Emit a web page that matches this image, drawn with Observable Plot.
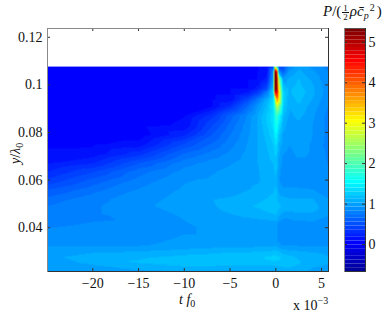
<!DOCTYPE html>
<html><head><meta charset="utf-8">
<script src="https://cdn.jsdelivr.net/npm/d3@7"></script>
<script src="https://cdn.jsdelivr.net/npm/@observablehq/plot@0.6"></script>
<style>
html,body{margin:0;padding:0;background:#fff}
#wrap{position:relative;width:390px;height:312px;overflow:hidden;font-family:"Liberation Serif",serif;color:#111}
#wrap svg{position:absolute;left:0;top:0;background:transparent}
.t{position:absolute;white-space:nowrap;font-size:14px;line-height:1}
i{font-style:italic}
</style></head><body><div id="wrap"></div>
<script>
const times=[-24.95,-20,-15,-10,-7,-5,-3,-2,-1,-0.25,-0.1,0.12,0.3,0.8,1.5,2.5,4,5.76];
const heights=[0.1077,0.1055,0.1025,0.0985,0.0965,0.094,0.091,0.087,0.083,0.079,0.075,0.071,0.067,0.0635,0.06,0.056,0.052,0.049,0.045,0.0415,0.039,0.035,0.0325,0.0295,0.0275,0.0255,0.0235,0.0216];
const r00=[.08,.08,.08,.08,.08,.08,.08,.08,.10,.40,2.6,1.4,.5,.5,.85,1.0,.9,.8];
const r01=[.08,.08,.08,.08,.08,.08,.08,.08,.12,.9,5.4,4.6,1.0,.6,.95,1.05,.95,.83];
const r02=[.08,.08,.08,.08,.08,.08,.08,.08,.2,1.0,5.4,5.3,2.6,.95,1.05,1.12,1.0,.85];
const r03=[.08,.08,.08,.08,.08,.08,.08,.2,.45,1.2,5.4,5.3,3.2,1.2,1.1,1.15,1.05,.87];
const r04=[.08,.08,.08,.08,.08,.08,.2,.4,.78,1.3,4.2,4.6,3.5,1.3,1.1,1.18,1.05,.87];
const r05=[.08,.08,.08,.08,.08,.1,.45,.72,1.05,1.35,2.2,3.8,3.3,1.3,1.05,1.15,1.02,.85];
const r06=[.07,.07,.07,.07,.08,.3,.68,.92,1.15,1.4,1.9,2.6,2.4,1.25,1.03,1.1,.98,.83];
const r07=[.06,.06,.06,.08,.32,.6,.86,1.02,1.22,1.38,1.65,1.9,1.6,1.15,1.0,1.05,.95,.8];
const r08=[.05,.05,.05,.1,.45,.68,.9,1.03,1.2,1.35,1.55,1.65,1.4,1.08,.95,1.0,.93,.8];
const r09=[.03,.02,.02,.25,.55,.74,.92,1.02,1.16,1.28,1.45,1.48,1.22,1.0,.93,.98,.93,.8];
const r10=[.07,.07,.12,.48,.66,.8,.94,1.02,1.12,1.22,1.3,1.32,1.1,.98,.93,.96,.92,.8];
const r11=[.1,.12,.32,.66,.78,.86,.96,1.02,1.1,1.16,1.22,1.22,1.05,.93,.9,.95,.92,.82];
const r12=[.17,.27,.55,.8,.88,.92,.98,1.02,1.08,1.12,1.18,1.16,1.0,.9,.88,.9,.9,.83];
const r13=[.27,.45,.7,.87,.92,.95,.98,1.01,1.06,1.1,1.14,1.12,.96,.88,.88,.87,.87,.85];
const r14=[.38,.58,.77,.92,.94,.97,1.0,1.01,1.05,1.08,1.1,1.08,.94,.88,.88,.87,.87,.85];
const r15=[.55,.7,.84,.94,.98,.99,1.02,1.04,1.07,1.1,1.13,1.11,1.0,.94,.94,.94,.93,.87];
const r16=[.68,.8,.89,.96,1.02,1.03,1.06,1.09,1.12,1.15,1.18,1.16,1.08,1.05,1.03,1.03,1.03,.93];
const r17=[.74,.82,.9,.98,1.01,1.06,1.1,1.13,1.17,1.19,1.2,1.18,1.14,1.1,1.07,1.07,1.07,.95];
const r18=[.78,.82,.86,.94,.98,1.01,1.04,1.06,1.08,1.1,1.12,1.1,1.04,.97,.97,1.0,1.0,.93];
const r19=[.82,.84,.85,.92,.96,.96,.96,.96,.96,.96,.98,.96,.9,.86,.86,.88,.9,.9];
const r20=[.84,.86,.87,.92,.94,.94,.94,.94,.94,.94,.96,.94,.88,.84,.85,.87,.88,.88];
const r21=[.88,.9,.9,.94,.94,.94,.94,.94,.94,.94,.96,.94,.9,.87,.87,.88,.88,.88];
const r22=[.92,.92,.92,.96,.98,.98,.98,1.0,1.0,1.0,1.02,1.0,.96,.92,.92,.92,.92,.92];
const r23=[1.0,1.02,1.04,1.08,1.1,1.12,1.12,1.14,1.14,1.16,1.18,1.16,1.14,1.1,1.07,1.05,1.03,1.0];
const r24=[1.0,1.07,1.1,1.15,1.17,1.2,1.2,1.2,1.22,1.24,1.26,1.24,1.24,1.17,1.15,1.1,1.07,1.03];
const r25=[.97,1.05,1.13,1.2,1.2,1.18,1.18,1.18,1.2,1.2,1.2,1.18,1.2,1.17,1.15,1.13,1.07,1.03];
const r26=[.93,1.0,1.05,1.1,1.1,1.08,1.08,1.08,1.08,1.08,1.1,1.08,1.1,1.12,1.12,1.1,1.03,1.0];
const r27=[.93,.97,1.0,1.03,1.03,1.0,1.0,1.0,1.0,1.0,1.02,1.0,1.02,1.05,1.1,1.05,1.0,.97];
const rows=[r00,r01,r02,r03,r04,r05,r06,r07,r08,r09,r10,r11,r12,r13,r14,r15,r16,r17,r18,r19,r20,r21,r22,r23,r24,r25,r26,r27];
const xTicks=[-20,-15,-10,-5,0,5];
const yTicks=[0.04,0.06,0.08,0.1,0.12];
const cTicks=[0,1,2,3,4,5];
const xDomain=[-24.95,5.76], yDomain=[0.0216,0.1237], cDomain=[-0.667,5.34];
const jetStops=["#00008f","#0000ff","#00ffff","#ffff00","#ff0000","#800000"];
const jetAt=[0,.125,.375,.625,.875,1];

const jetScale=d3.scaleLinear().domain(jetAt).range(jetStops);
const jet=t=>jetScale(Math.min(64,Math.floor(t*64)+1)/64);
const samples=[];
rows.forEach((r,i)=>r.forEach((v,j)=>samples.push({t:times[j],y:heights[i],v})));
const color={type:"linear",domain:cDomain,interpolate:jet,clamp:true};
const H=312,W=390,mT=28,mB=41;
const edge="#333",grey="#8a8a8a";
const fsize=14;
const main=Plot.plot({
  width:W,height:H,marginLeft:47,marginRight:62,marginTop:mT,marginBottom:mB,
  style:{background:"transparent",fontFamily:"Liberation Serif",fontSize:fsize+"px",color:"#111"},
  x:{domain:xDomain,label:null},y:{domain:yDomain,label:null},color,
  marks:[
    Plot.raster(samples,{x:"t",y:"y",fill:"v",interpolate:"barycentric",pixelSize:1,
      x1:xDomain[0],x2:xDomain[1],y1:heights[heights.length-1],y2:heights[0]}),
    Plot.axisX(xTicks,{tickSize:0,tickPadding:7,fontSize:fsize,tickFormat:d3.format("d")}),
    Plot.axisY(yTicks,{tickSize:0,tickPadding:5,fontSize:fsize,tickFormat:d=>String(d)}),
    Plot.tickX(xTicks,{x:d=>d,insetTop:H-mT-mB-3,stroke:"#333"}),
    Plot.tickX(xTicks,{x:d=>d,insetBottom:H-mT-mB-3,stroke:"#333"}),
    Plot.tickY(yTicks,{y:d=>d,insetRight:W-47-62-3,stroke:"#333"}),
    Plot.tickY(yTicks,{y:d=>d,insetLeft:W-47-62-3,stroke:"#333"}),
    Plot.frame({anchor:"top",stroke:grey}),
    Plot.frame({anchor:"right",stroke:edge}),
    Plot.frame({anchor:"bottom",stroke:edge}),
    Plot.frame({anchor:"left",stroke:grey})
  ]
});
const levels=d3.range(64);
const lev=i=>cDomain[0]+(cDomain[1]-cDomain[0])*i/64;
const bar=Plot.plot({
  width:W,height:H,marginLeft:344,marginRight:25,marginTop:mT,marginBottom:mB,
  style:{background:"transparent",fontFamily:"Liberation Serif",fontSize:fsize+"px",color:"#111"},
  x:{domain:[0,1],axis:null},y:{domain:cDomain,label:null,axis:null},color,
  marks:[
    Plot.rect(levels,{x1:0,x2:1,y1:lev,y2:i=>lev(i+1),fill:i=>lev(i+.5)}),
    Plot.axisY(cTicks,{anchor:"right",tickSize:0,tickPadding:3,fontSize:fsize,tickFormat:d3.format("d")}),
    Plot.tickY(cTicks,{y:d=>d,insetRight:18,stroke:"#333"}),
    Plot.tickY(cTicks,{y:d=>d,insetLeft:18,stroke:"#333"}),
    Plot.frame({anchor:"top",stroke:"#555"}),
    Plot.frame({anchor:"right",stroke:edge}),
    Plot.frame({anchor:"bottom",stroke:edge}),
    Plot.frame({anchor:"left",stroke:grey})
  ]
});
const wrap=document.getElementById("wrap");
wrap.append(main,bar);
function txt(html,style){const d=document.createElement("div");d.className="t";d.innerHTML=html;Object.assign(d.style,style);wrap.append(d);}
txt('<i>t f</i><span style="font-size:10px;position:relative;top:3px">0</span>',{left:"179px",top:"293px"});
txt('x 10<span style="font-size:10px;position:relative;top:-6px">&minus;3</span>',{left:"293px",top:"299px"});
txt('<i>y</i>/<i>&lambda;</i><span style="font-size:10px;position:relative;top:3px">0</span>',{left:"0px",top:"0px",transformOrigin:"0 0",transform:"translate(9px,164px) rotate(-90deg)"});
txt('<i>P</i>/(<span style="display:inline-block;vertical-align:middle;text-align:center;font-size:9px;line-height:8px;margin:0 1px"><span style="display:block;border-bottom:1px solid #111;padding:0 1px">1</span><span style="display:block">2</span></span><i>&rho;c&#772;</i><span style="font-size:10px;position:relative;top:3px"><i>p</i></span><span style="font-size:10px;position:relative;top:-5px;left:1px">2</span>&thinsp;)',{left:"323px",top:"4px",fontSize:"15px"});
</script></body></html>
